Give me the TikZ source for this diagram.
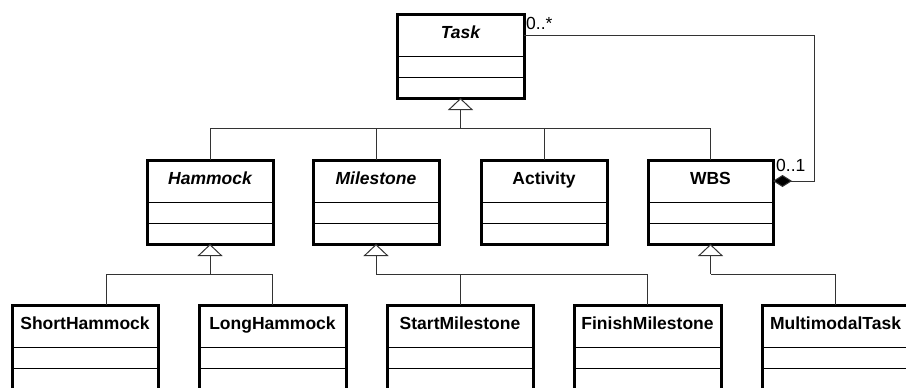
\documentclass[tikz,border=0pt]{standalone}
\usepackage{fontspec}
\setmainfont{Liberation Sans}
\usetikzlibrary{arrows.meta,calc}
\tikzset{
 clsbox/.style={draw, line width=3pt, minimum height=84pt, inner sep=0pt, outer sep=0pt},
 clstitle/.style={minimum height=42pt, inner sep=0pt, outer sep=0pt, text height=0.8em, text depth=0.06em, font=\fontsize{17.5}{20}\selectfont\bfseries},
 sepline/.style={line width=1pt},
 conn/.style={line width=1pt, draw=black!80},
 gen/.style={conn, -{Triangle[length=12pt,width=25pt,fill=white,line join=miter]}},
 comp/.style={conn, -{Diamond[length=19pt,width=12pt,fill=black]}},
 mult/.style={font=\fontsize{17.5}{20}\selectfont, inner sep=0pt},
}
\newcommand{\umlclass}[5]{%
 \node[clsbox, minimum width=#4pt, anchor=north] (#1) at (#2,#3) {};
 \node[clstitle, minimum width=#4pt, anchor=north] (#1t) at (#1.north) {#5};
 \draw[sepline] ([yshift=-42pt]#1.north west) -- ([yshift=-42pt]#1.north east);
 \draw[sepline] ([yshift=-63pt]#1.north west) -- ([yshift=-63pt]#1.north east);
}
\begin{document}
\begin{tikzpicture}[x=1pt,y=-1pt]
\useasboundingbox (0,0) rectangle (906,388);
\fill[white] (0,0) rectangle (906,388);
\clip (0,0) rectangle (906,388);

\umlclass{task}{460.5}{14}{127}{\itshape Task}
\umlclass{hammock}{210}{160}{126}{\itshape Hammock}
\umlclass{milestone}{376}{160}{126}{\itshape Milestone}
\umlclass{activity}{544}{160}{126}{Activity}
\umlclass{wbs}{710.5}{160}{125}{WBS}
\umlclass{shorth}{85}{305}{146}{ShortHammock}
\umlclass{longh}{272.5}{305}{147}{LongHammock}
\umlclass{startm}{460}{305}{146}{StartMilestone}
\umlclass{finishm}{647.5}{305}{147}{FinishMilestone}
\umlclass{multi}{835.5}{305}{147}{MultimodalTask}

% generalization to Task
\coordinate (b0) at (460.5,128);
\draw[gen] (b0) -- (task.south);
\foreach \n in {hammock,milestone,activity,wbs} \draw[conn] (\n.north) |- (b0);

% generalization to Hammock
\coordinate (b1) at (210,274);
\draw[gen] (b1) -- (hammock.south);
\draw[conn] ([xshift=21pt]shorth.north) |- (b1);
\draw[conn] (longh.north) |- (b1);

% generalization to Milestone
\coordinate (b2) at (376,274);
\draw[gen] (b2) -- (milestone.south);
\draw[conn] (startm.north) |- (b2);
\draw[conn] (finishm.north) |- (b2);

% generalization to WBS
\coordinate (b3) at (710.5,274);
\draw[gen] (b3) -- (wbs.south);
\draw[conn] (multi.north) |- (b3);

% composition
\coordinate (turn) at (814,0);
\draw[comp] (taskt.east) -| (turn |- wbst.east) -- (wbst.east);
\node[mult, anchor=base west] (m1) at ([shift={(2pt,5pt)}]taskt.east) {0..*};
\node[mult, anchor=base west] (m2) at ([shift={(3pt,10pt)}]wbst.east) {0..1};
\end{tikzpicture}
\end{document}
